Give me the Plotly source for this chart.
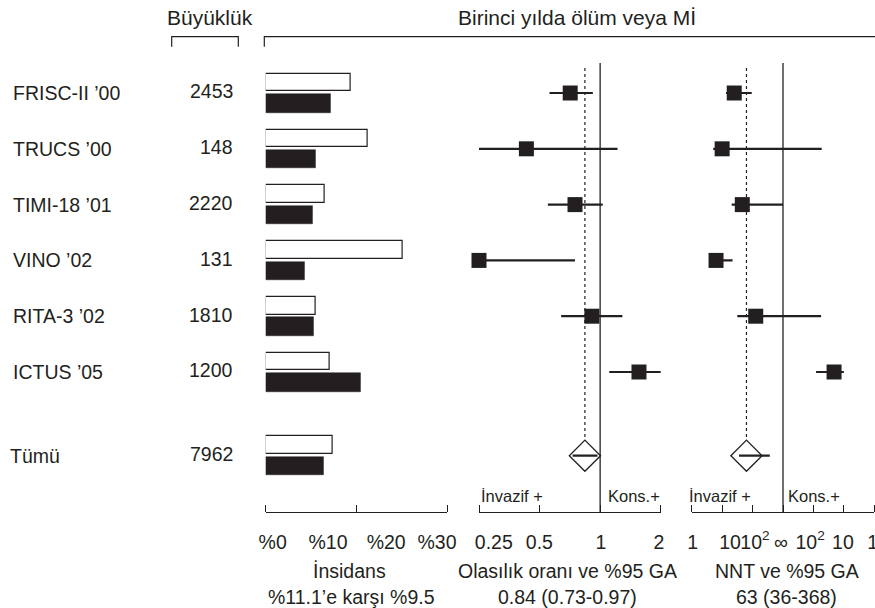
import math
import plotly.graph_objects as go

# ---------------- data ----------------
studies = ["FRISC-II ’00", "TRUCS ’00", "TIMI-18 ’01", "VINO ’02", "RITA-3 ’02", "ICTUS ’05"]
sizes = [2453, 148, 2220, 131, 1810, 1200]
# 1-year death or MI incidence (%)
inc_white = [14.1, 16.8, 9.7, 22.7, 8.3, 10.5]
inc_black = [10.7, 8.2, 7.7, 6.5, 8.0, 15.7]
# odds ratio and 95% CI
or_est = [0.71, 0.43, 0.75, 0.25, 0.91, 1.56]
or_lo = [0.56, 0.25, 0.55, 0.25, 0.64, 1.11]
or_hi = [0.92, 1.22, 1.03, 0.75, 1.29, 2.02]
# NNT (positive = invasive benefit, negative = harm, inf = infinity)
INF = float("inf")
nnt_est = [25, 10, 46, 6.3, 127, -21]
nnt_left = [13.4, 5.1, 20.6, 5.0, 31.5, -82]
nnt_right = [94, -53.5, INF, 22, -56, -10]

total_label = "Tümü"
total_size = 7962
total_white = 11.1
total_black = 9.5
total_or, total_or_lo, total_or_hi = 0.84, 0.73, 0.97
total_nnt, total_nnt_lo, total_nnt_hi = 63, 36, 368

pct_tick_labels = ["%0", "%10", "%20", "%30"]
or_tick_labels = ["0.25", "0.5", "1", "2"]
nnt_tick_labels = ["1", "10", "10<sup>2</sup>", "∞", "10<sup>2</sup>", "10", "1"]

# ---------------- helpers ----------------
W, H = 875, 608
INK = "#231f20"
FONT = "Liberation Sans, Arial, Helvetica, sans-serif"


def px_x(p):
    return p / W


def px_y(p):
    return 1 - p / H


def nnt_pos(n):
    if n == INF or n == -INF:
        return 0.0
    if n > 0:
        return math.log10(n) - 3
    return 3 - math.log10(-n)


rows = list(range(len(studies)))
total_row = len(studies) + 0.5
all_rows = rows + [total_row]

fig = go.Figure()

# incidence bars
fig.add_trace(go.Bar(orientation="h", x=inc_white + [total_white], y=all_rows,
                     offset=-0.345, width=0.315,
                     marker=dict(color="white", line=dict(color=INK, width=1.2)),
                     xaxis="x", yaxis="y", hoverinfo="skip"))
fig.add_trace(go.Bar(orientation="h", x=inc_black + [total_black], y=all_rows,
                     offset=0.02, width=0.33,
                     marker=dict(color=INK, line=dict(color=INK, width=0.5)),
                     xaxis="x", yaxis="y", hoverinfo="skip"))

# odds ratio CI lines
xs, ys = [], []
for r, lo, hi in zip(rows, or_lo, or_hi):
    xs += [lo, hi, None]
    ys += [r, r, None]
xs += [total_or_lo, total_or_hi, None]
ys += [total_row, total_row, None]
fig.add_trace(go.Scatter(x=xs, y=ys, mode="lines", line=dict(color=INK, width=2.2),
                         xaxis="x2", yaxis="y", cliponaxis=False, hoverinfo="skip"))
fig.add_trace(go.Scatter(x=or_est, y=rows, mode="markers",
                         marker=dict(symbol="square", size=15, color=INK),
                         xaxis="x2", yaxis="y", cliponaxis=False, hoverinfo="skip"))
fig.add_trace(go.Scatter(x=[total_or], y=[total_row], mode="markers",
                         marker=dict(symbol="diamond-open", size=24, color=INK,
                                     line=dict(width=1.3, color=INK)),
                         xaxis="x2", yaxis="y", cliponaxis=False, hoverinfo="skip"))

# NNT CI lines
xs, ys = [], []
for r, a, b in zip(rows, nnt_left, nnt_right):
    xs += [nnt_pos(a), nnt_pos(b), None]
    ys += [r, r, None]
xs += [nnt_pos(total_nnt_lo), nnt_pos(total_nnt_hi), None]
ys += [total_row, total_row, None]
fig.add_trace(go.Scatter(x=xs, y=ys, mode="lines", line=dict(color=INK, width=2.2),
                         xaxis="x3", yaxis="y", cliponaxis=False, hoverinfo="skip"))
fig.add_trace(go.Scatter(x=[nnt_pos(n) for n in nnt_est], y=rows, mode="markers",
                         marker=dict(symbol="square", size=15, color=INK),
                         xaxis="x3", yaxis="y", cliponaxis=False, hoverinfo="skip"))
fig.add_trace(go.Scatter(x=[nnt_pos(total_nnt)], y=[total_row], mode="markers",
                         marker=dict(symbol="diamond-open", size=24, color=INK,
                                     line=dict(width=1.3, color=INK)),
                         xaxis="x3", yaxis="y", cliponaxis=False, hoverinfo="skip"))

# ---------------- axes ----------------
common = dict(showline=True, linecolor=INK, linewidth=1.3, ticks="", showgrid=False,
              zeroline=False, anchor="y", tickfont=dict(size=19.5, color=INK, family=FONT),
              ticklabelstandoff=12, fixedrange=True, automargin=False, tickangle=0,
              ticklabeloverflow="allow")

fig.update_layout(
    template="none",
    width=W, height=H, autosize=False,
    margin=dict(l=0, r=0, t=0, b=0, pad=0, autoexpand=False),
    paper_bgcolor="white", plot_bgcolor="white",
    showlegend=False, bargap=0,
    font=dict(family=FONT, size=19.5, color=INK),
    yaxis=dict(domain=[px_y(512), 1], range=[7.509, -1.667], visible=False,
               fixedrange=True, automargin=False),
    xaxis=dict(domain=[px_x(265.7), px_x(447.3)], range=[0, 30],
               tickmode="array", tickvals=[1.15, 10.3, 19.9, 28.3], ticktext=pct_tick_labels,
               minor=dict(tickmode="array", tickvals=[0, 15, 30], ticks="inside",
                          ticklen=7, tickwidth=1.3, tickcolor=INK, showgrid=False),
               **common),
    xaxis2=dict(domain=[px_x(479), px_x(660.7)], type="log",
                range=[math.log10(0.25), math.log10(2)],
                tickmode="array", tickvals=[0.296, 0.499, 1.008, 1.96], ticktext=or_tick_labels,
                minor=dict(tickmode="array", tickvals=[0.25, 0.5, 1, 2], ticks="inside",
                           ticklen=7, tickwidth=1.3, tickcolor=INK, showgrid=False),
                **common),
    xaxis3=dict(domain=[px_x(691.7), px_x(874.3)], range=[-3, 3],
                tickmode="array", tickvals=[-2.97, -1.74, -0.92, -0.07, 0.89, 1.97, 2.95],
                ticktext=nnt_tick_labels,
                minor=dict(tickmode="array", tickvals=[-3, -2, -1, 0, 1, 2, 3], ticks="inside",
                           ticklen=7, tickwidth=1.3, tickcolor=INK, showgrid=False),
                **common),
)

# ---------------- reference lines ----------------
shapes = []
shapes.append(dict(type="line", xref="x2", yref="paper", x0=1, x1=1,
                   y0=px_y(512), y1=px_y(63), line=dict(color=INK, width=1.3)))
shapes.append(dict(type="line", xref="x2", yref="y", x0=total_or, x1=total_or,
                   y0=-0.45, y1=total_row - 0.29, line=dict(color=INK, width=1.2, dash="dot")))
shapes.append(dict(type="line", xref="x3", yref="paper", x0=nnt_pos(INF), x1=nnt_pos(INF),
                   y0=px_y(512), y1=px_y(63), line=dict(color=INK, width=1.3)))
shapes.append(dict(type="line", xref="x3", yref="y", x0=nnt_pos(total_nnt), x1=nnt_pos(total_nnt),
                   y0=-0.45, y1=total_row - 0.30, line=dict(color=INK, width=1.2, dash="dot")))
# header brackets
shapes.append(dict(type="path", xref="paper", yref="paper",
                   path=f"M {px_x(171.7)},{px_y(46.7)} L {px_x(171.7)},{px_y(36.7)} "
                        f"L {px_x(238.3)},{px_y(36.7)} L {px_x(238.3)},{px_y(46.7)}",
                   line=dict(color=INK, width=1.2)))
shapes.append(dict(type="path", xref="paper", yref="paper",
                   path=f"M {px_x(264.3)},{px_y(46.7)} L {px_x(264.3)},{px_y(36.7)} "
                        f"L {px_x(875)},{px_y(36.7)}",
                   line=dict(color=INK, width=1.2)))
fig.update_layout(shapes=shapes)

# ---------------- text ----------------
ann = []


def text(x, y, s, size=19.5, xanchor="center"):
    ann.append(dict(x=px_x(x), y=px_y(y), xref="paper", yref="paper", text=s,
                    showarrow=False, xanchor=xanchor, yanchor="middle",
                    font=dict(size=size, color=INK, family=FONT)))


text(210, 18, "Büyüklük", size=21)
text(577, 18, "Birinci yılda ölüm veya Mİ", size=21)

for r, name, n in zip(all_rows, studies + [total_label], sizes + [total_size]):
    ann.append(dict(x=px_x(11 if r != total_row else 8), y=r, xref="paper", yref="y", text=name,
                    showarrow=False, xanchor="left", yanchor="middle",
                    font=dict(size=19.5, color=INK, family=FONT)))
    ann.append(dict(x=px_x(235), y=r - 0.03, xref="paper", yref="y", text=str(n),
                    showarrow=False, xanchor="right", yanchor="middle",
                    font=dict(size=19.5, color=INK, family=FONT)))

text(512, 496, "İnvazif +", size=16.5)
text(634, 496, "Kons.+", size=16.5)
text(719.5, 496, "İnvazif +", size=16.5)
text(814, 496, "Kons.+", size=16.5)

text(349, 571, "İnsidans")
text(351, 597, "%11.1’e karşı %9.5")
text(567, 571, "Olasılık oranı ve %95 GA")
text(567, 597, f"{total_or} ({total_or_lo}-{total_or_hi})")
text(787, 571, "NNT ve %95 GA")
text(786, 597, f"{total_nnt} ({total_nnt_lo}-{total_nnt_hi})")

fig.update_layout(annotations=ann)

fig.write_html("out.html", config={"displayModeBar": False},
               post_script="document.body.style.margin='0px';")
